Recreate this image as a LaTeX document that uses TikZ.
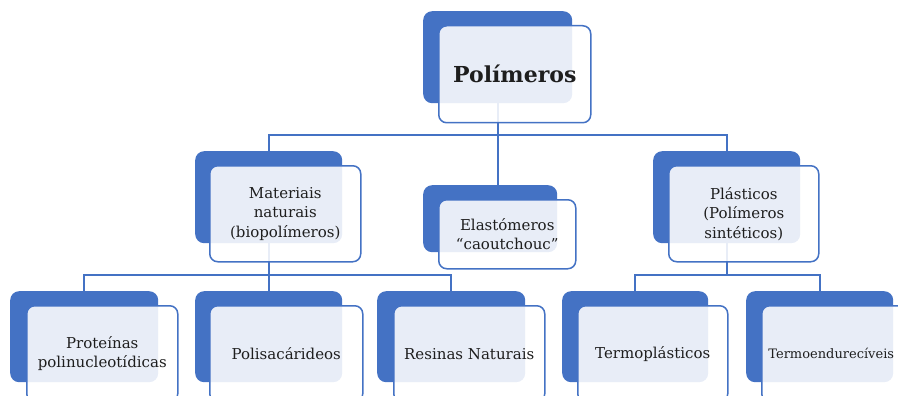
\documentclass[tikz,border=0pt]{standalone}
\usepackage{fontspec}
\setmainfont{DejaVu Serif}
\definecolor{accent}{HTML}{4472C4}
\definecolor{ink}{HTML}{1E1E1E}
\begin{document}
\begin{tikzpicture}[x=1pt,y=-1pt,
  backbox/.style={anchor=north west, fill=accent, rounded corners=9pt, inner sep=0pt},
  frontbox/.style={anchor=north west, draw=accent, line width=1.5pt, fill=white,
    fill opacity=0.88, text opacity=1, rounded corners=8pt, inner sep=2pt,
    align=center, text=ink, font=\fontsize{15}{19.5}\selectfont},
  conn/.style={draw=accent, line width=2pt}]
\path[use as bounding box, clip] (0,0) rectangle (898,396);

% solid boxes behind each label
\node[backbox, minimum width=149pt, minimum height=92pt] (rootB) at (423,11) {};
\node[backbox, minimum width=147pt, minimum height=92pt] (matB) at (195,151) {};
\node[backbox, minimum width=134pt, minimum height=67pt] (elaB) at (423,185) {};
\node[backbox, minimum width=147pt, minimum height=92pt] (plaB) at (653,151) {};
\node[backbox, minimum width=148pt, minimum height=91pt] (proB) at (10,291) {};
\node[backbox, minimum width=147pt, minimum height=91pt] (polB) at (195,291) {};
\node[backbox, minimum width=148pt, minimum height=91pt] (resB) at (377,291) {};
\node[backbox, minimum width=146pt, minimum height=91pt] (terB) at (562,291) {};
\node[backbox, minimum width=147pt, minimum height=91pt] (tmdB) at (746,291) {};

% hierarchy connectors
\draw[conn] (rootB.south) -- ++(0,32) -| (matB.north);
\draw[conn] (rootB.south) -- ++(0,32) -| (plaB.north);
\draw[conn] (rootB.south) -- (rootB.south |- elaB.north);
\draw[conn] (matB.south) -- ++(0,32) -| (proB.north);
\draw[conn] (matB.south) -- (polB.north);
\draw[conn] (matB.south) -- ++(0,32) -| (resB.north);
\draw[conn] (plaB.south) -- ++(0,32) -| (terB.north);
\draw[conn] (plaB.south) -- ++(0,32) -| (tmdB.north);

% translucent label boxes
\node[frontbox, minimum width=152pt, minimum height=97pt,
  font=\bfseries\fontsize{22}{26}\selectfont] (rootF) at (438,25) {Polímeros};
\node[frontbox, minimum width=151pt, minimum height=96pt] (matF) at (209,165)
  {Materiais\\naturais\\(biopolímeros)};
\node[frontbox, minimum width=137pt, minimum height=69pt] (elaF) at (438,199)
  {Elastómeros\\“caoutchouc”};
\node[frontbox, minimum width=150pt, minimum height=96pt] (plaF) at (668,165)
  {Plásticos\\(Polímeros\\sintéticos)};
\node[frontbox, minimum width=151pt, minimum height=96pt] (proF) at (26,305)
  {Proteínas\\polinucleotídicas};
\node[frontbox, minimum width=153pt, minimum height=96pt] (polF) at (209,305)
  {Polisacárideos};
\node[frontbox, minimum width=151pt, minimum height=96pt] (resF) at (393,305)
  {Resinas Naturais};
\node[frontbox, minimum width=150pt, minimum height=96pt] (terF) at (577,305)
  {Termoplásticos};
% the last box runs past the right edge, so its label is set a little smaller
% and pulled left to stay readable
\node[frontbox, minimum width=151pt, minimum height=96pt,
  font=\fontsize{13}{17}\selectfont] (tmdF) at (761,305)
  {Termoendurecíveis\hspace*{12pt}};
\end{tikzpicture}
\end{document}
